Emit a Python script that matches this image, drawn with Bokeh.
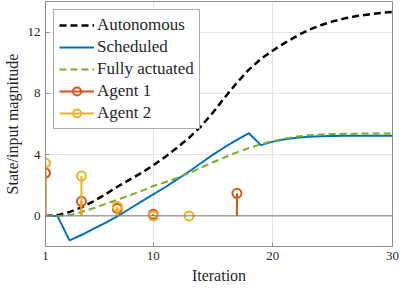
from bokeh.plotting import figure
from bokeh.models import ColumnDataSource, Legend, LegendItem, FixedTicker, Range1d, Span
from bokeh.embed import file_html
from bokeh.resources import INLINE

iterations = list(range(1, 31))
autonomous = [0, 0.05, 0.25, 0.55, 0.95, 1.4, 1.9, 2.35, 2.8, 3.3,
              3.85, 4.45, 5.1, 5.85, 6.75, 7.75, 8.7, 9.55, 10.25, 10.8,
              11.3, 11.75, 12.15, 12.45, 12.7, 12.9, 13.05, 13.15, 13.25, 13.32]
scheduled = [0, 0, -1.6, -1.25, -0.85, -0.45, -0.03, 0.45, 0.93, 1.4,
             1.87, 2.38, 2.9, 3.45, 4.0, 4.5, 4.97, 5.4, 4.62, 4.85,
             5.0, 5.1, 5.16, 5.2, 5.22, 5.23, 5.24, 5.24, 5.24, 5.24]
fully_actuated = [0, 0, 0.05, 0.25, 0.5, 0.78, 1.05, 1.33, 1.62, 1.95,
                  2.2, 2.47, 2.8, 3.15, 3.5, 3.83, 4.15, 4.43, 4.68, 4.88,
                  5.05, 5.18, 5.26, 5.31, 5.34, 5.36, 5.37, 5.38, 5.38, 5.38]
agent1_x = [1, 4, 7, 10, 17]
agent1_y = [2.8, 0.95, 0.48, 0.1, 1.47]
agent2_x = [1, 4, 7, 10, 13]
agent2_y = [3.45, 2.6, 0.62, 0.0, 0.0]
x_ticks = [1, 10, 20, 30]
y_ticks = [0, 4, 8, 12]

FONT = "Liberation Serif"
TXT = "#262626"

p = figure(width=400, height=286, output_backend="svg", toolbar_location=None,
           x_range=Range1d(1, 30), y_range=Range1d(-2, 14),
           min_border_left=30, min_border_right=8, min_border_top=1, min_border_bottom=33)

p.background_fill_color = "white"
p.outline_line_color = "#8c8c8c"
p.outline_line_width = 1

for ax in (p.xaxis, p.yaxis):
    ax.axis_line_color = "#8c8c8c"
    ax.major_tick_line_color = "#8c8c8c"
    ax.major_tick_in = 4
    ax.major_tick_out = 0
    ax.minor_tick_line_color = None
    ax.major_label_text_font = FONT
    ax.major_label_text_font_size = "13px"
    ax.major_label_text_color = TXT
    ax.axis_label_text_font = FONT
    ax.axis_label_text_font_size = "16px"
    ax.axis_label_text_font_style = "normal"
    ax.axis_label_text_color = TXT
    ax.major_label_standoff = 5
    ax.axis_label_standoff = 4

p.xaxis.ticker = FixedTicker(ticks=x_ticks)
p.yaxis.ticker = FixedTicker(ticks=y_ticks)
p.xaxis.axis_label = "Iteration"
p.yaxis.axis_label = "State/input magnitude"

p.xgrid.ticker = FixedTicker(ticks=x_ticks)
p.ygrid.ticker = FixedTicker(ticks=y_ticks)
p.grid.grid_line_color = "#e3e3e3"
p.grid.grid_line_width = 1

p.add_layout(Span(location=0, dimension="width", line_color="#7a7a7a", line_width=1))

src = ColumnDataSource(dict(x=iterations, a=autonomous, s=scheduled, f=fully_actuated))
r_auto = p.line("x", "a", source=src, line_color="black", line_width=2.5, line_dash="7 4")
r_sched = p.line("x", "s", source=src, line_color="#0072BD", line_width=2)
r_full = p.line("x", "f", source=src, line_color="#77AC30", line_width=2, line_dash="7 4")

s1 = ColumnDataSource(dict(x=agent1_x, y=agent1_y, z=[0] * len(agent1_x)))
s2 = ColumnDataSource(dict(x=agent2_x, y=agent2_y, z=[0] * len(agent2_x)))
c1, c2 = "#D95319", "#EDB120"
seg1 = p.segment(x0="x", y0="z", x1="x", y1="y", source=s1, line_color=c1, line_width=2)
sc1 = p.scatter("x", "y", source=s1, marker="circle", size=9, fill_color=None,
                line_color=c1, line_width=2)
seg2 = p.segment(x0="x", y0="z", x1="x", y1="y", source=s2, line_color=c2, line_width=2)
sc2 = p.scatter("x", "y", source=s2, marker="circle", size=9, fill_color=None,
                line_color=c2, line_width=2)

legend = Legend(items=[
    LegendItem(label="Autonomous", renderers=[r_auto]),
    LegendItem(label="Scheduled", renderers=[r_sched]),
    LegendItem(label="Fully actuated", renderers=[r_full]),
    LegendItem(label="Agent 1", renderers=[seg1, sc1]),
    LegendItem(label="Agent 2", renderers=[seg2, sc2]),
], location="top_left")
legend.label_text_font = FONT
legend.label_text_font_size = "17px"
legend.label_text_color = TXT
legend.glyph_width = 35
legend.glyph_height = 20
legend.label_height = 20
legend.spacing = 2
legend.padding = 5
legend.margin = 8
legend.label_standoff = 3
legend.border_line_color = "#555555"
legend.border_line_width = 1
legend.background_fill_alpha = 1
p.add_layout(legend)

open("out.html", "w").write(file_html(p, INLINE))
